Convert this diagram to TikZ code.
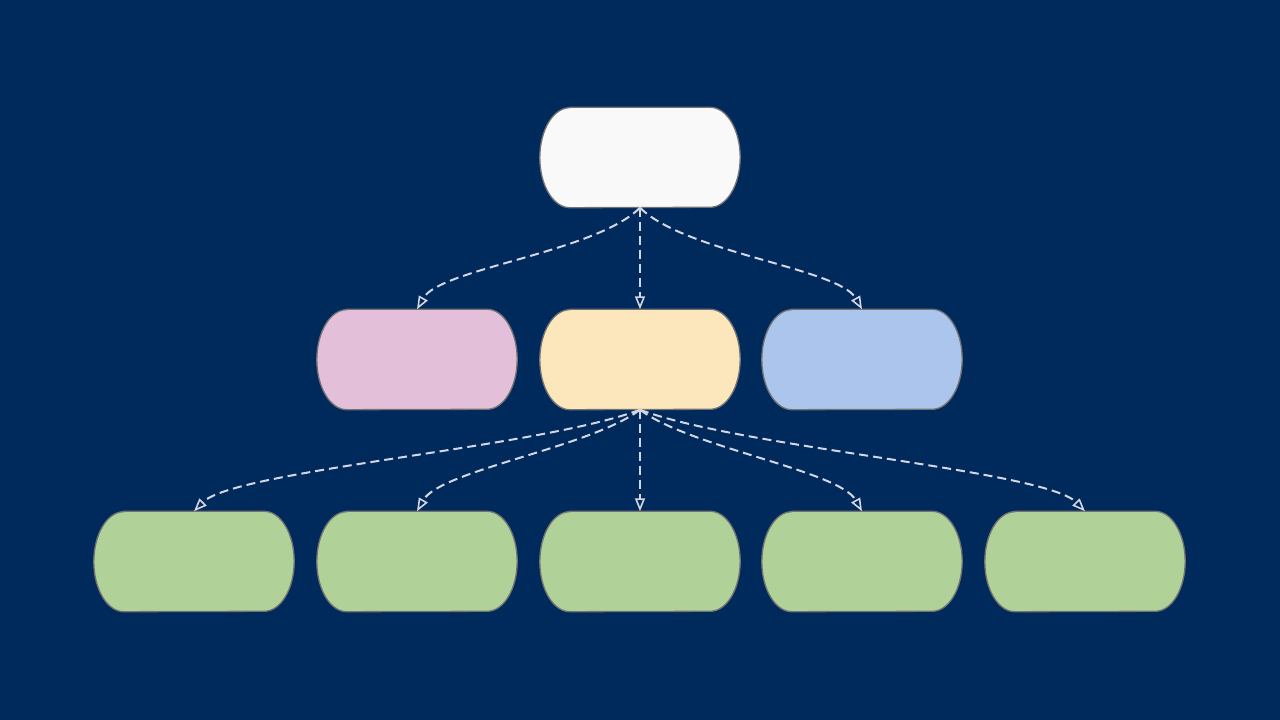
\documentclass[tikz,border=0pt]{standalone}
\usetikzlibrary{arrows.meta,calc}
\definecolor{bg}{HTML}{012A5C}
\definecolor{cwhite}{HTML}{F9F9F9}
\definecolor{cpink}{HTML}{E3BFDA}
\definecolor{cyellow}{HTML}{FCE7BC}
\definecolor{cblue}{HTML}{ACC5EC}
\definecolor{cgreen}{HTML}{B0D198}
\definecolor{cedge}{HTML}{D4D7E2}
\definecolor{cborder}{HTML}{727272}
\tikzset{
  capbox/.style={minimum width=200pt, minimum height=100pt, inner sep=0pt},
  capline/.style={draw=cborder, line width=1.3pt},
  link/.style={draw=cedge, line width=2pt, dash pattern=on 9pt off 5pt,
    -{Triangle[open, length=13pt, width=10pt, line width=1.6pt]}},
}
\newcommand{\mkcapsule}[4]{%
  \node[capbox] (#1) at (#2,#3) {};
  \path[capline, fill=#4]
    ([xshift=30pt]#1.north west) -- ([xshift=-30pt]#1.north east)
    arc[start angle=90, end angle=-90, x radius=30pt, y radius=50pt]
    -- ([xshift=30pt]#1.south west)
    arc[start angle=270, end angle=90, x radius=30pt, y radius=50pt]
    -- cycle;
}
\begin{document}
\begin{tikzpicture}[x=1pt,y=1pt]
\fill[bg] (0,0) rectangle (1280,720);
\useasboundingbox (0,0) rectangle (1280,720);
\mkcapsule{root}{640}{562.5}{cwhite}
\mkcapsule{ma}{417}{360.5}{cpink}
\mkcapsule{mb}{640}{360.5}{cyellow}
\mkcapsule{mc}{862}{360.5}{cblue}
\mkcapsule{ba}{194}{158.5}{cgreen}
\mkcapsule{bb}{417}{158.5}{cgreen}
\mkcapsule{bc}{640}{158.5}{cgreen}
\mkcapsule{bd}{862}{158.5}{cgreen}
\mkcapsule{be}{1085}{158.5}{cgreen}
% root to middle
\draw[link] (root.south) .. controls +(-45,-45) and +(23,41) .. (ma.north);
\draw[link] (root.south) -- (mb.north);
\draw[link] (root.south) .. controls +(45,-45) and +(-23,41) .. (mc.north);
% middle to bottom
\draw[link] (mb.south) .. controls +(-100,-38) and +(40,41) .. (ba.north);
\draw[link] (mb.south) .. controls +(-50,-38) and +(23,41) .. (bb.north);
\draw[link] (mb.south) -- (bc.north);
\draw[link] (mb.south) .. controls +(50,-38) and +(-23,41) .. (bd.north);
\draw[link] (mb.south) .. controls +(100,-38) and +(-40,41) .. (be.north);
\end{tikzpicture}
\end{document}
